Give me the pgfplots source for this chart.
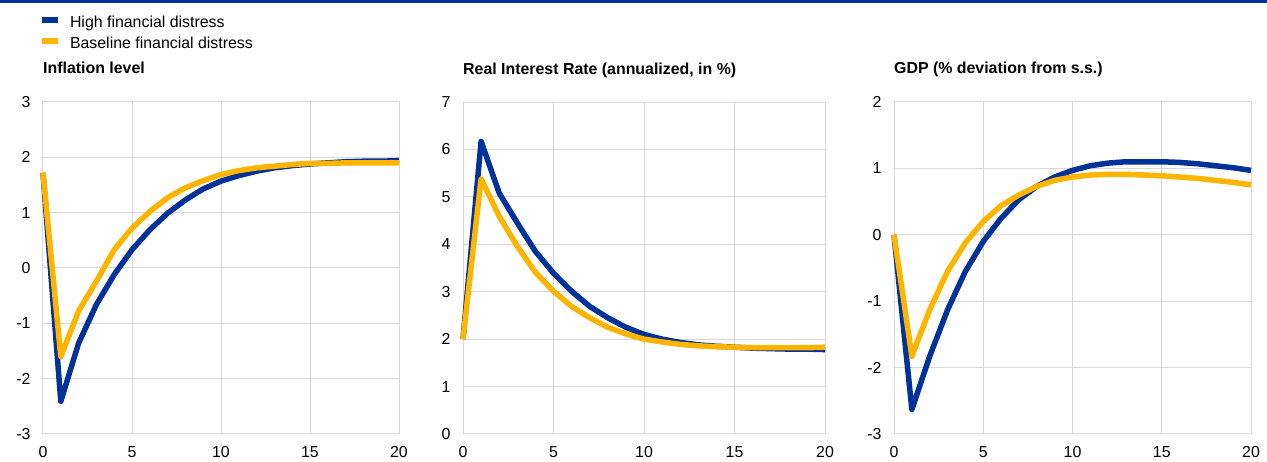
\documentclass[border=0pt]{standalone}
\usepackage{fontspec}
\setmainfont{Liberation Sans}
\usepackage{pgfplots}
\pgfplotsset{compat=1.18}
\definecolor{ecbblue}{HTML}{003299}
\definecolor{ecbyellow}{HTML}{FFB400}
\definecolor{gridgray}{HTML}{D9D9D9}
\newcommand{\fs}{\fontsize{15.9}{19}\selectfont}

\pgfplotsset{
  common/.style={
    scale only axis,
    xmin=0, xmax=20,
    xtick={0,5,10,15,20},
    ytick distance=1,
    grid=major,
    grid style={gridgray, line width=1pt},
    axis line style={gridgray, line width=1pt},
    major tick length=0pt,
    tick label style={font=\fs},
    /pgf/number format/assume math mode=true,
    yticklabel style={xshift=-9pt},
    xticklabel style={yshift=-9pt},
    title style={at={(0,1)}, anchor=base west, yshift=22pt, inner sep=0pt, font=\fs\bfseries},
    clip=false,
    every axis plot/.append style={line width=5.5pt, line join=round},
  }
}

\pgfplotstableread{
x hi base
0 1.72 1.72
1 -2.41 -1.60
2 -1.36 -0.78
3 -0.66 -0.24
4 -0.12 0.33
5 0.33 0.72
6 0.69 1.02
7 0.99 1.27
8 1.23 1.45
9 1.43 1.58
10 1.57 1.69
11 1.67 1.76
12 1.75 1.81
13 1.81 1.84
14 1.85 1.87
15 1.88 1.89
16 1.90 1.89
17 1.92 1.90
18 1.93 1.90
19 1.93 1.90
20 1.94 1.90
}\inflation

\pgfplotstableread{
x hi base
0 2.00 2.00
1 6.17 5.38
2 5.08 4.59
3 4.45 3.96
4 3.85 3.41
5 3.39 3.01
6 3.01 2.69
7 2.69 2.45
8 2.45 2.25
9 2.25 2.11
10 2.10 2.00
11 2.00 1.94
12 1.93 1.89
13 1.88 1.86
14 1.85 1.84
15 1.83 1.83
16 1.81 1.82
17 1.80 1.82
18 1.79 1.82
19 1.79 1.82
20 1.78 1.83
}\realrate

\pgfplotstableread{
x hi base
0 0.00 0.00
1 -2.63 -1.83
2 -1.83 -1.13
3 -1.13 -0.55
4 -0.55 -0.12
5 -0.10 0.20
6 0.25 0.44
7 0.53 0.60
8 0.73 0.73
9 0.87 0.82
10 0.97 0.87
11 1.04 0.90
12 1.08 0.91
13 1.10 0.91
14 1.10 0.90
15 1.10 0.89
16 1.09 0.87
17 1.07 0.85
18 1.04 0.82
19 1.01 0.79
20 0.97 0.75
}\gdp

\begin{document}
\begin{tikzpicture}[x=1pt,y=1pt]
\path[use as bounding box] (0,0) rectangle (1267,462);
\fill[ecbblue] (0,459.3) rectangle (1267,462);

\begin{axis}[common,
  at={(43pt,28pt)}, width=356pt, height=332pt,
  ymin=-3, ymax=3,
  title={Inflation level},
  legend style={at={(0,1)}, anchor=north west, xshift=-4pt, yshift=85pt,
    draw=none, fill=none, inner sep=0pt, outer sep=0pt,
    row sep=7pt, column sep=9pt,
    nodes={inner sep=0pt, font=\fs, text height=11pt, text depth=3pt}},
  legend cell align=left,
  legend image code/.code={\draw[line width=6pt] (0pt,4pt) -- (16pt,4pt);},
]
\addplot[ecbblue] table[x=x,y=hi] {\inflation};
\addlegendentry{High financial distress}
\addplot[ecbyellow] table[x=x,y=base] {\inflation};
\addlegendentry{Baseline financial distress}
\end{axis}

\begin{axis}[common,
  at={(463pt,28pt)}, width=362pt, height=332pt,
  ymin=0, ymax=7,
  title={Real Interest Rate (annualized, in \%)},
]
\addplot[ecbblue] table[x=x,y=hi] {\realrate};
\addplot[ecbyellow] table[x=x,y=base] {\realrate};
\end{axis}

\begin{axis}[common,
  at={(894pt,28pt)}, width=357pt, height=332pt,
  ymin=-3, ymax=2,
  title={GDP (\% deviation from s.s.)},
]
\addplot[ecbblue] table[x=x,y=hi] {\gdp};
\addplot[ecbyellow] table[x=x,y=base] {\gdp};
\end{axis}
\end{tikzpicture}
\end{document}
